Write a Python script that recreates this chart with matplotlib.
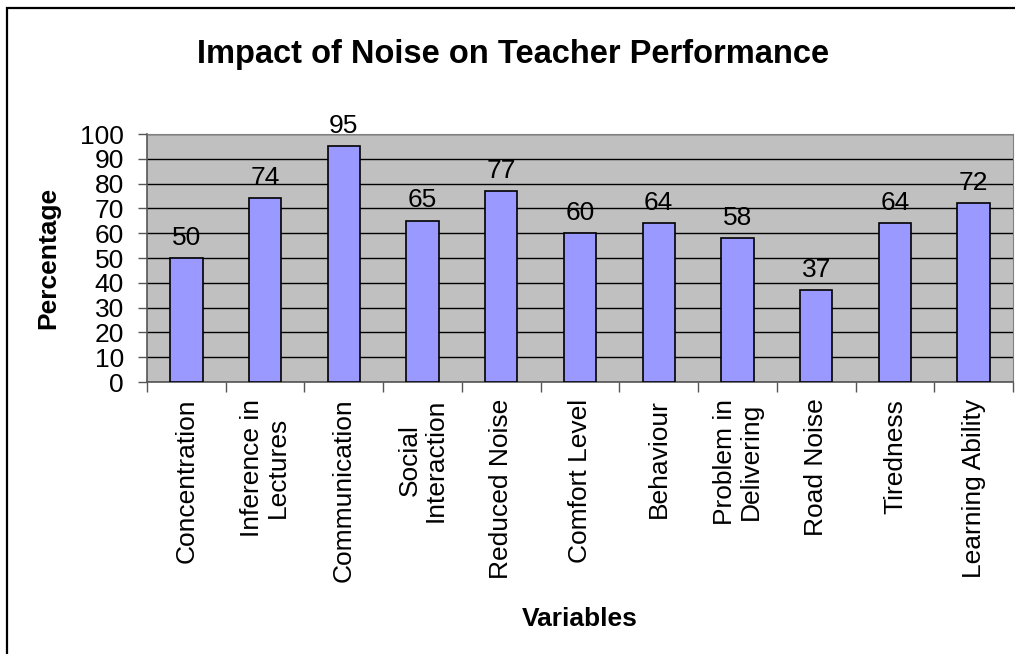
import matplotlib.pyplot as plt
import numpy as np
from matplotlib.patches import Rectangle

plt.rcParams["font.family"] = ["Liberation Sans", "DejaVu Sans"]

categories = ["Concentration", "Inference in\nLectures", "Communication",
              "Social\nInteraction", "Reduced Noise", "Comfort Level",
              "Behaviour", "Problem in\nDelivering", "Road Noise",
              "Tiredness", "Learning Ability"]
values = [50, 74, 95, 65, 77, 60, 64, 58, 37, 64, 72]
yticks = list(range(0, 101, 10))

fig = plt.figure(figsize=(10.15, 6.54), dpi=100)
ax = fig.add_axes([147 / 1015, 1 - 382 / 654, (1013 - 147) / 1015, (382 - 134) / 654])

# outer chart border (cropped at right and bottom like the original)
fig.patches.append(Rectangle((7 / 1015, -0.1), 1.2, 0.1 + 1 - 8 / 654,
                             transform=fig.transFigure, fill=False,
                             edgecolor="black", linewidth=1.6, zorder=0))

x = np.arange(len(categories))
ax.set_facecolor("#C0C0C0")
bars = ax.bar(x, values, width=0.41, color="#9999FF", edgecolor="black",
              linewidth=1.2, zorder=3)
for b, v in zip(bars, values):
    ax.annotate(str(v), (b.get_x() + b.get_width() / 2, v), xytext=(0, 6),
                textcoords="offset points", ha="center", va="bottom",
                fontsize=19, zorder=4)

ax.set_xlim(-0.5, len(categories) - 0.5)
ax.set_ylim(0, 100)
ax.set_yticks(yticks)
ax.set_yticklabels([str(t) for t in yticks], fontsize=19)
ax.yaxis.grid(True, color="black", linewidth=1, zorder=1)
ax.set_axisbelow(True)

ax.set_xticks(x)
ax.set_xticklabels(categories, rotation=90, fontsize=19, va="top",
                   ha="center", multialignment="center", linespacing=1.1)
ax.set_xticks(np.arange(-0.5, len(categories)), minor=True)
ax.tick_params(axis="x", which="major", length=0, pad=12)
ax.tick_params(axis="x", which="minor", length=7, color="#555555", width=1)
ax.tick_params(axis="y", length=6.5, color="#555555", width=1, pad=10)

for s in ["top", "right"]:
    ax.spines[s].set_color("#808080")
for s in ["left", "bottom"]:
    ax.spines[s].set_color("#555555")
    ax.spines[s].set_linewidth(1.2)

ax.set_ylabel("Percentage", fontsize=19, fontweight="bold")
ax.yaxis.set_label_coords((60 - 147) / 866, 0.5)
ax.set_xlabel("Variables", fontsize=19, fontweight="bold")
ax.xaxis.set_label_coords(0.5, (382 - 607) / 248)
fig.text(513 / 1015, 1 - 54 / 654, "Impact of Noise on Teacher Performance",
         ha="center", va="center", fontsize=23.5, fontweight="bold")

fig.savefig("out.png", dpi=100)
